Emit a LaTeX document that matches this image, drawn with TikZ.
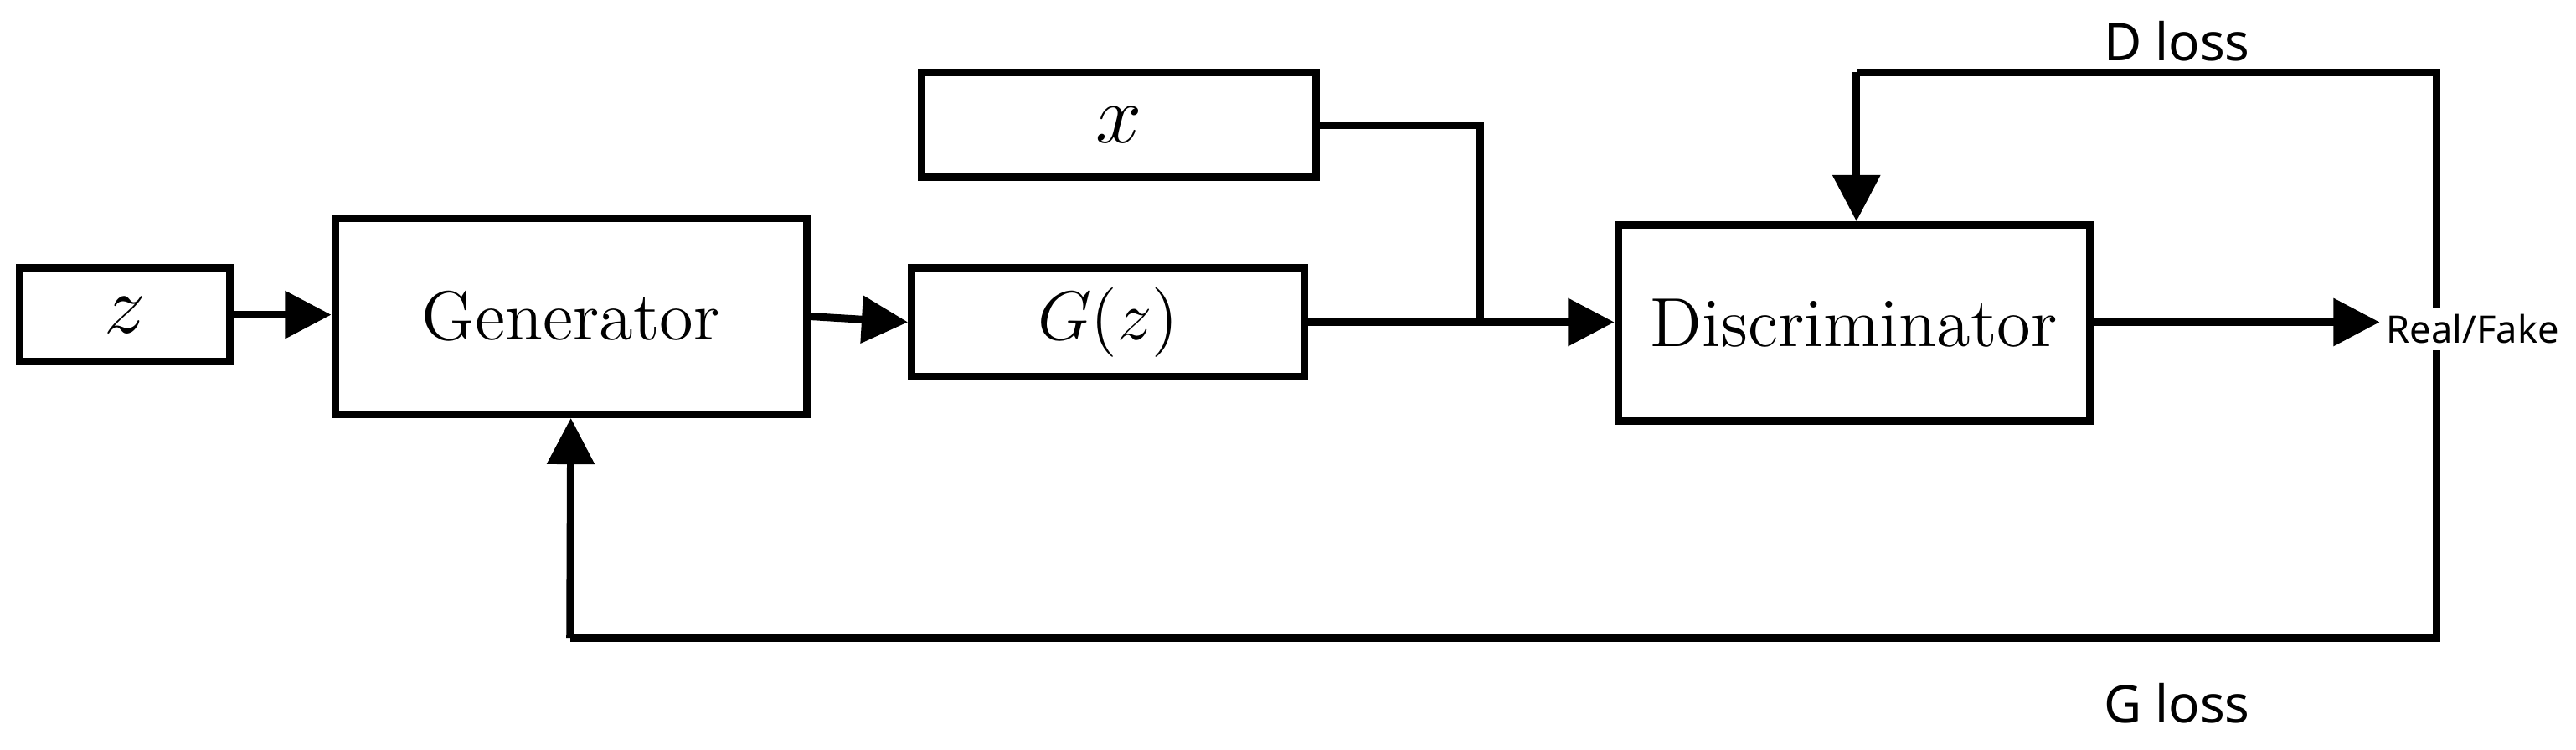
\documentclass[tikz,border=0pt]{standalone}
\usepackage{fontspec}
\newfontfamily\sansf{Noto Sans}
\usetikzlibrary{arrows.meta}
\begin{document}
\begin{tikzpicture}[x=0.01cm,y=-0.01cm,
 box/.style={draw,line width=1.3pt,inner sep=0pt},
 ln/.style={line width=1.3pt},
 ar/.style={ln,-{Triangle[length=8pt,width=8pt]}},
 lab/.style={font=\sansf\small}]
\useasboundingbox (0,0) rectangle (1568,456);
\node[box,minimum width=1.28cm,minimum height=0.57cm] (z) at (76,191.5) {\Large$z$};
\node[box,minimum width=2.87cm,minimum height=1.19cm] (gen) at (347.5,192.5) {\large Generator};
\node[box,minimum width=2.39cm,minimum height=0.66cm] (gz) at (674.5,196) {\large$G(z)$};
\node[box,minimum width=2.40cm,minimum height=0.64cm] (x) at (681,76) {\Large$x$};
\node[box,minimum width=2.87cm,minimum height=1.19cm] (dis) at (1128.5,196.5) {\large Discriminator};
\node[lab,anchor=east,inner sep=1pt] (rf) at (1562,200) {\resizebox{1.05cm}{!}{Real/Fake}};
\node[lab] (dl) at (1325,25) {D loss};
\node[lab] (gl) at (1325,428) {G loss};
\coordinate (j) at (901,196);
\draw[ar] (z.east) -- (gen.west |- z.east);
\draw[ar] (gen.east) -- (gz.west);
\draw[ln] (gz.east) -- (j);
\draw[ln] (x.east) -| (j);
\draw[ar] (j) -- (dis.west |- j);
\draw[ar] (dis.east |- j) -- (rf.west |- j);
\coordinate (tr) at (1483,44);
\coordinate (br) at (1483,388);
\coordinate (tl) at (1130,44);
\coordinate (bl) at (347,388);
\draw[ln] (rf.north -| tr) -- (tr) -- (tl);
\draw[ar] (tl) -- (dis.north -| tl);
\draw[ln] (rf.south -| br) -- (br) -- (bl);
\draw[ar] (bl) -- (gen.south);
\end{tikzpicture}
\end{document}
